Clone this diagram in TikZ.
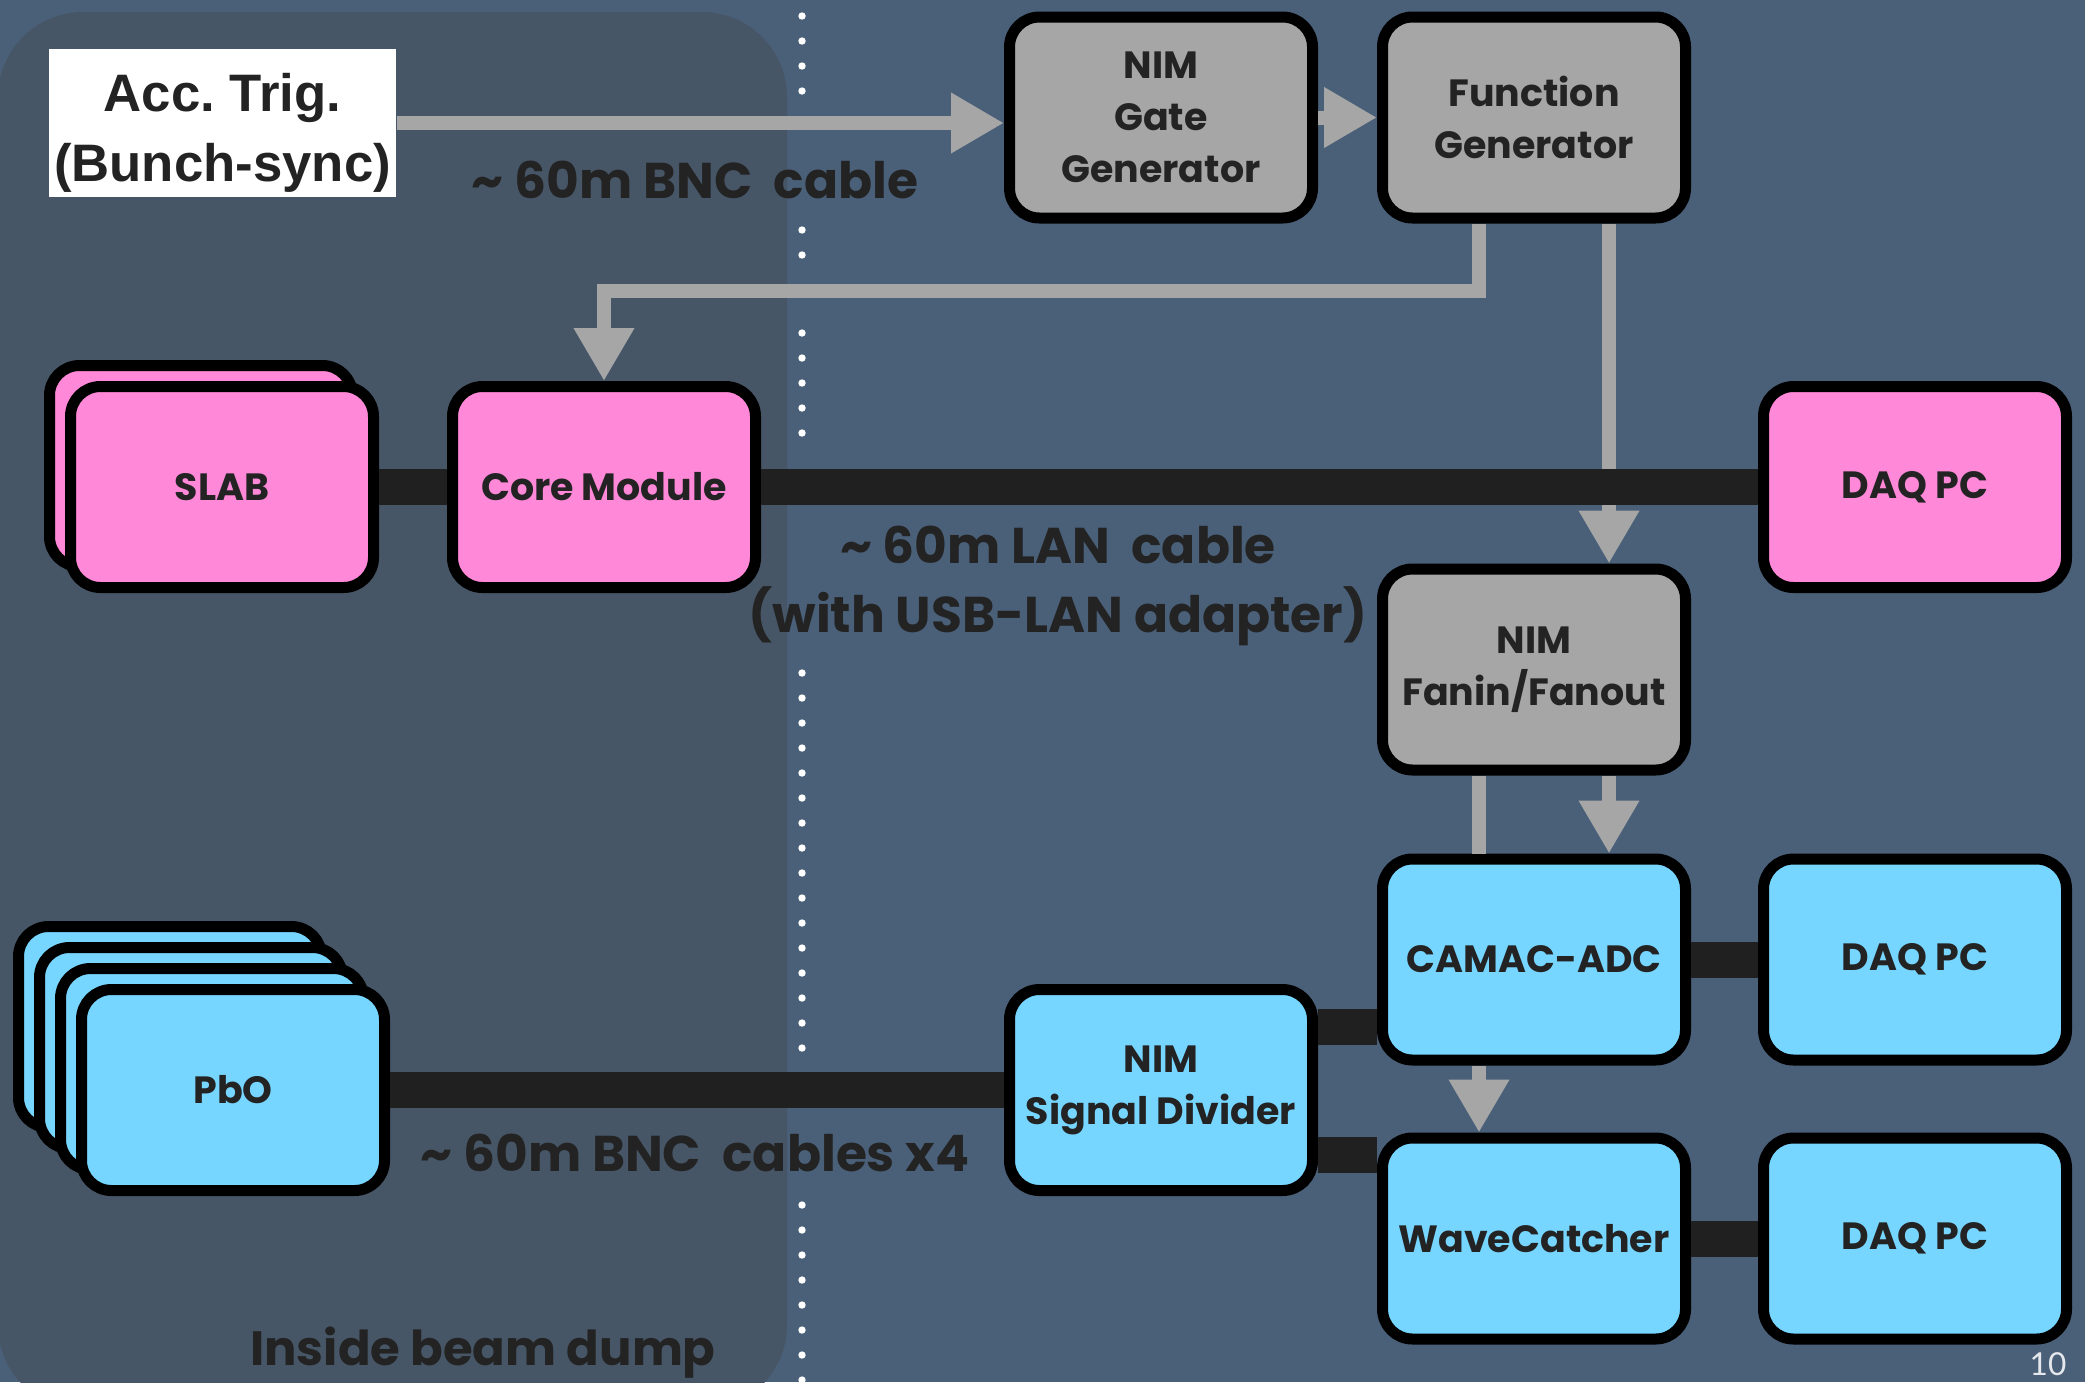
\documentclass[tikz,border=0pt]{standalone}
\usepackage{fontspec}
\setmainfont{Poppins}
\newfontfamily\accfont{Liberation Sans}
\newfontfamily\pagefont{Lato}
\usetikzlibrary{positioning,arrows.meta}

\definecolor{slidebg}{HTML}{4A6079}
\definecolor{dumpbg}{HTML}{475667}
\definecolor{slabpink}{HTML}{FF88D8}
\definecolor{pbocyan}{HTML}{77D6FF}
\definecolor{nimgray}{HTML}{A6A6A6}
\definecolor{cableblack}{HTML}{202020}
\definecolor{textdark}{HTML}{232323}

\newcommand{\unitfont}{\fontsize{10.8}{14.8}\selectfont\bfseries}
\newcommand{\tagfont}{\fontsize{14.3}{16}\selectfont\bfseries}

\tikzset{
  unit/.style={draw=black, line width=0.11cm, rounded corners=0.3cm,
    minimum width=3.03cm, minimum height=2.01cm, align=center,
    font=\unitfont, text=textdark},
  pinkunit/.style={unit, fill=slabpink},
  cyanunit/.style={unit, fill=pbocyan},
  grayunit/.style={unit, fill=nimgray},
  trace/.style={draw=nimgray, line width=0.14cm},
  signal/.style={trace, -{Triangle[width=0.57cm,length=0.53cm]}},
  cable/.style={draw=cableblack, line width=0.36cm},
  tag/.style={font=\tagfont, text=textdark},
}

\begin{document}
\begin{tikzpicture}
\useasboundingbox (0,0) rectangle (20.85,-13.82);
\fill[slidebg] (0,0) rectangle (20.85,-13.82);
% beam dump area
\fill[dumpbg, rounded corners=0.85cm] (-0.02,-0.12) rectangle (7.87,-14.1);
\node[tag, font=\fontsize{13.7}{16}\selectfont\bfseries] (dumptag) at (4.83,-13.53) {Inside beam dump};
% dotted border
\foreach \top/\n in {0.16/3, 2.30/1, 3.33/4, 6.73/15, 12.05/7}
  \foreach \i in {0,...,\n}
    \fill[white] (8.02,{-\top-0.25*\i}) circle (0.037);

% trigger
\node[fill=white, minimum width=3.47cm, minimum height=1.48cm, inner sep=0pt] (acc) at (2.225,-1.23) {};
\node[align=center, text=textdark, font=\accfont\fontsize{15}{20}\selectfont\bfseries] (acctext) at (2.225,-1.33) {Acc.\ Trig.\\(Bunch-sync)};
\node[grayunit] (gate) at (11.61,-1.175) {NIM\\Gate\\Generator};
\node[grayunit, right=0.59cm of gate] (func) {Function\\Generator};

% SLAB line
\node[pinkunit, xshift=-2.1mm, yshift=2.1mm] (slabback) at (2.22,-4.87) {};
\node[pinkunit] (slab) at (2.22,-4.87) {SLAB};
\node[pinkunit] (core) at (6.04,-4.87) {Core Module};
\node[pinkunit] (daq1) at (19.15,-4.87) {DAQ PC};

% PbO line
\node[grayunit, below=3.40cm of func] (fanin) {NIM\\Fanin/Fanout};
\node[cyanunit, below=0.78cm of fanin] (camac) {CAMAC-ADC};
\node[cyanunit, below=0.67cm of camac] (wave) {WaveCatcher};
\node[cyanunit, right=0.67cm of camac] (daq2) {DAQ PC};
\node[cyanunit, right=0.67cm of wave] (daq3) {DAQ PC};
\node[cyanunit] (divider) at (11.61,-10.90) {NIM\\Signal Divider};
\foreach \k in {3,2,1}
  \node[cyanunit, xshift=-\k*2.1mm, yshift=\k*2.1mm] (pbo\k) at (2.33,-10.90) {};
\node[cyanunit] (pbo) at (2.33,-10.90) {PbO};

% gray = trigger / gate
\draw[signal] (acc.east) -- (acc.east -| gate.west);
\draw[signal] (gate) -- (func);
\draw[signal] ([xshift=-5.5mm]func.south) -- ++(0,-0.67) -| (core.north);
\draw[signal] ([xshift=7.5mm]func.south) -- ([xshift=7.5mm]fanin.north);
\draw[trace] ([xshift=-5.5mm]fanin.south) -- ([xshift=-5.5mm]camac.north);
\draw[signal] ([xshift=-5.5mm]camac.south) -- ([xshift=-5.5mm]wave.north);
\draw[signal] ([xshift=7.5mm]fanin.south) -- ([xshift=7.5mm]camac.north);

% black = data
\draw[cable] (slab) -- (core);
\draw[cable] (core) -- (daq1);
\draw[cable] (camac) -- (daq2);
\draw[cable] (wave) -- (daq3);
\draw[cable] (pbo.east) -- (pbo.east -| divider.west);
\draw[cable] ([yshift=6.3mm]divider.east) -- ([yshift=6.3mm]divider.east -| camac.west);
\draw[cable] ([yshift=-6.5mm]divider.east) -- ([yshift=-6.5mm]divider.east -| wave.west);

\node[tag] (bnctag) at (6.95,-1.80) {\textasciitilde{} 60m BNC\ \ cable};
\node[tag] (lantag) at (10.58,-5.45) {\textasciitilde{} 60m LAN\ \ cable};
\node[tag] (usbtag) at (10.58,-6.16) {(with USB-LAN adapter)};
\node[tag] (bnc4tag) at (6.95,-11.53) {\textasciitilde{} 60m BNC\ \ cables x4};
\node[text=white!85!slidebg, font=\pagefont\fontsize{9}{10}\selectfont, inner sep=1pt] (pagenum) at (20.48,-13.64) {10};
\end{tikzpicture}
\end{document}
